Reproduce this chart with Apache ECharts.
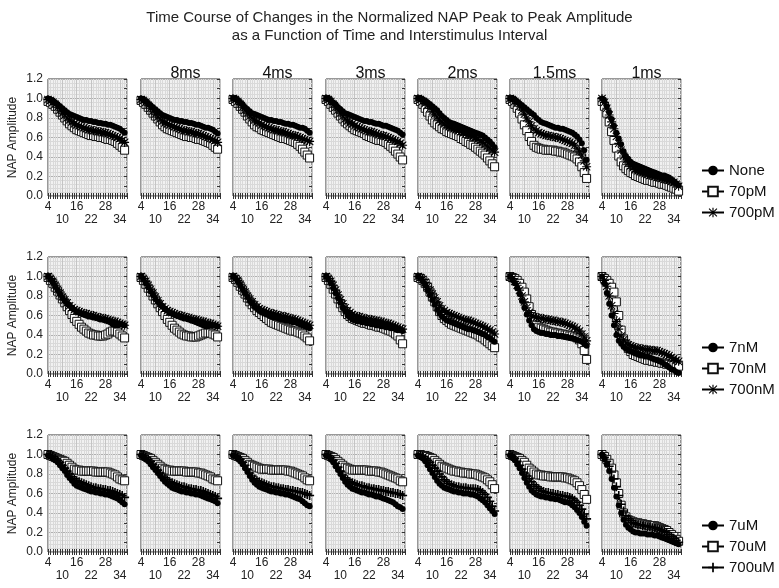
<!DOCTYPE html>
<html>
<head>
<meta charset="utf-8">
<script src="https://cdn.jsdelivr.net/npm/echarts@6/dist/echarts.min.js"></script>
<style>
  html, body { margin: 0; padding: 0; background: #fff; }
  #chart { width: 779px; height: 588px; }
</style>
</head>
<body>
<div id="chart"></div>
<script>
// time points (x axis)
const xs = [4, 5, 6, 7, 8, 9, 10, 11, 12, 13, 14, 15, 16, 17, 18, 19, 20, 21, 22, 23, 24, 25, 26, 27, 28, 29, 30, 31, 32, 33, 34, 35, 36]
const xLabelsTop = [4, 16, 28]
const xLabelsBottom = [10, 22, 34]
const colTitles = ['', '8ms', '4ms', '3ms', '2ms', '1.5ms', '1ms']
const rowNames = [
  ['None', '70pM', '700pM'],
  ['7nM', '70nM', '700nM'],
  ['7uM', '70uM', '700uM']
]

// NAP amplitude x100, one array per interstimulus column
const none = [
  [100, 99, 98, 96, 94, 92, 90, 88, 86, 84, 83, 82, 81, 80, 79, 78, 78, 77, 77, 76, 76, 75, 75, 74, 74, 73, 73, 72, 71, 70, 69, 67, 65],
  [100, 99, 97, 95, 93, 91, 89, 87, 85, 83, 82, 81, 80, 79, 78, 78, 77, 77, 76, 76, 75, 75, 74, 73, 73, 72, 71, 70, 70, 69, 68, 66, 64],
  [100, 100, 98, 96, 94, 91, 89, 87, 85, 84, 83, 82, 81, 80, 79, 78, 78, 77, 77, 76, 76, 75, 74, 74, 73, 73, 72, 71, 70, 70, 69, 67, 65],
  [100, 100, 98, 96, 94, 91, 89, 87, 85, 84, 83, 82, 81, 80, 79, 78, 77, 77, 76, 76, 75, 74, 74, 73, 72, 72, 71, 70, 69, 68, 67, 65, 63],
  [100, 100, 99, 98, 96, 94, 92, 90, 88, 85, 82, 80, 78, 76, 75, 74, 73, 72, 71, 70, 69, 68, 67, 66, 65, 64, 63, 62, 60, 58, 56, 53, 50],
  [100, 100, 99, 97, 95, 93, 91, 89, 87, 85, 83, 80, 78, 76, 75, 74, 73, 72, 71, 70, 70, 69, 69, 68, 67, 66, 65, 63, 61, 58, 54, 47, 37],
  [100, 97, 92, 86, 79, 72, 65, 59, 53, 46, 41, 38, 35, 33, 32, 31, 30, 29, 28, 27, 26, 25, 24, 23, 22, 21, 21, 20, 19, 17, 15, 13, 11]
]
const pM70 = [
  [97, 96, 94, 92, 89, 86, 83, 80, 77, 74, 72, 70, 68, 67, 66, 65, 64, 63, 62, 62, 61, 61, 60, 60, 59, 58, 58, 57, 56, 54, 52, 50, 47],
  [98, 96, 94, 91, 88, 85, 82, 79, 76, 73, 71, 69, 68, 67, 66, 65, 64, 63, 62, 61, 61, 60, 60, 59, 58, 58, 57, 56, 55, 54, 52, 50, 48],
  [99, 97, 95, 92, 89, 86, 82, 79, 76, 73, 71, 70, 68, 67, 66, 65, 64, 63, 62, 61, 60, 59, 59, 58, 57, 56, 55, 53, 51, 48, 45, 42, 39],
  [99, 97, 94, 91, 88, 85, 82, 79, 76, 74, 72, 70, 68, 67, 66, 65, 64, 62, 61, 60, 59, 58, 57, 57, 56, 55, 53, 51, 49, 46, 43, 40, 37],
  [99, 97, 94, 90, 86, 82, 78, 75, 73, 71, 69, 68, 66, 65, 64, 63, 62, 61, 59, 58, 56, 55, 53, 52, 50, 48, 46, 44, 42, 39, 36, 33, 30],
  [99, 97, 94, 90, 85, 79, 73, 67, 61, 56, 52, 50, 49, 48, 48, 47, 47, 47, 47, 46, 46, 45, 45, 44, 43, 42, 41, 40, 38, 35, 30, 24, 18],
  [97, 92, 85, 76, 66, 57, 49, 41, 35, 31, 28, 26, 24, 23, 21, 20, 19, 18, 17, 16, 16, 15, 14, 14, 13, 12, 12, 11, 10, 9, 8, 7, 5]
]
const pM700 = [
  [99, 98, 96, 94, 91, 88, 85, 83, 80, 78, 76, 74, 73, 72, 71, 70, 69, 68, 68, 67, 67, 66, 66, 65, 65, 64, 63, 62, 61, 60, 59, 57, 55],
  [99, 98, 96, 93, 90, 87, 84, 81, 79, 77, 75, 74, 73, 72, 71, 70, 69, 68, 67, 67, 66, 66, 65, 64, 64, 63, 62, 61, 60, 59, 58, 57, 55],
  [100, 99, 97, 94, 91, 88, 85, 82, 80, 78, 76, 75, 73, 72, 71, 70, 69, 68, 68, 67, 66, 66, 65, 64, 63, 62, 62, 61, 60, 59, 58, 57, 56],
  [100, 99, 97, 94, 91, 88, 85, 82, 79, 77, 75, 74, 72, 71, 70, 69, 68, 67, 66, 66, 65, 64, 63, 62, 62, 61, 60, 59, 58, 57, 56, 54, 52],
  [100, 99, 97, 95, 93, 90, 87, 84, 81, 78, 76, 74, 72, 71, 70, 69, 68, 67, 66, 65, 64, 63, 62, 61, 60, 58, 57, 55, 53, 51, 49, 47, 45],
  [100, 99, 97, 95, 92, 88, 84, 80, 76, 72, 69, 67, 65, 64, 63, 62, 62, 61, 61, 60, 60, 59, 58, 57, 56, 55, 54, 52, 49, 46, 42, 36, 30],
  [100, 96, 90, 83, 76, 69, 61, 54, 47, 41, 37, 34, 31, 29, 27, 26, 25, 24, 23, 22, 21, 21, 20, 19, 19, 18, 17, 17, 16, 15, 14, 12, 10]
]
const nM7 = [
  [100, 97, 94, 90, 86, 82, 78, 75, 72, 70, 68, 66, 64, 63, 62, 61, 60, 59, 59, 58, 58, 57, 56, 56, 55, 54, 53, 51, 50, 50, 51, 51, 50],
  [100, 97, 93, 89, 85, 81, 77, 74, 71, 69, 67, 65, 63, 62, 61, 60, 59, 58, 57, 57, 56, 55, 54, 53, 52, 51, 50, 49, 49, 50, 50, 50, 49],
  [100, 98, 95, 91, 87, 83, 79, 75, 72, 69, 67, 65, 63, 62, 61, 60, 59, 58, 58, 57, 56, 56, 55, 55, 54, 53, 53, 52, 51, 50, 49, 48, 47],
  [100, 97, 93, 88, 83, 78, 73, 68, 64, 60, 58, 56, 55, 54, 54, 53, 53, 52, 52, 51, 51, 50, 50, 49, 49, 48, 48, 47, 47, 46, 45, 45, 44],
  [100, 98, 95, 91, 86, 81, 76, 71, 66, 62, 59, 57, 55, 54, 53, 52, 51, 50, 49, 48, 47, 46, 46, 45, 44, 43, 42, 41, 40, 38, 37, 35, 33],
  [100, 97, 93, 88, 82, 75, 68, 61, 55, 50, 46, 44, 43, 42, 42, 41, 41, 40, 40, 40, 39, 39, 39, 38, 38, 37, 37, 36, 35, 34, 33, 31, 29],
  [100, 93, 83, 72, 60, 50, 40, 34, 31, 28, 26, 24, 23, 22, 21, 20, 19, 19, 18, 18, 17, 16, 15, 14, 13, 12, 10, 9, 7, 5, 4, 2, 1]
]
const nM70 = [
  [99, 96, 93, 89, 85, 81, 77, 73, 69, 65, 61, 57, 54, 51, 48, 46, 44, 42, 41, 40, 40, 39, 39, 39, 40, 41, 43, 44, 44, 43, 41, 39, 37],
  [99, 96, 92, 88, 84, 80, 76, 72, 68, 64, 60, 56, 53, 50, 47, 45, 43, 41, 40, 39, 39, 38, 38, 38, 39, 40, 41, 42, 42, 42, 41, 40, 38],
  [99, 97, 94, 90, 86, 82, 78, 74, 71, 68, 65, 63, 61, 59, 57, 55, 53, 52, 51, 50, 49, 48, 47, 46, 45, 44, 44, 43, 42, 41, 39, 37, 34],
  [99, 96, 92, 87, 82, 77, 72, 68, 64, 61, 59, 57, 56, 55, 54, 53, 52, 52, 51, 50, 50, 49, 48, 48, 47, 46, 45, 44, 43, 41, 39, 35, 31],
  [99, 98, 96, 93, 89, 84, 79, 74, 69, 64, 60, 57, 55, 53, 51, 50, 49, 48, 47, 46, 45, 44, 43, 42, 41, 40, 38, 37, 35, 33, 31, 29, 27],
  [100, 99, 98, 96, 93, 89, 84, 77, 69, 61, 54, 50, 48, 47, 46, 45, 44, 43, 43, 42, 42, 41, 41, 40, 40, 39, 39, 38, 37, 35, 31, 24, 15],
  [100, 98, 96, 93, 89, 84, 74, 60, 45, 36, 30, 26, 23, 20, 19, 18, 17, 16, 15, 14, 14, 13, 13, 12, 12, 11, 11, 10, 10, 9, 9, 8, 8]
]
const nM700 = [
  [100, 98, 95, 91, 87, 83, 79, 76, 73, 70, 68, 66, 65, 64, 63, 62, 62, 61, 60, 60, 59, 58, 58, 57, 57, 56, 55, 54, 54, 53, 52, 51, 50],
  [100, 98, 95, 91, 87, 83, 79, 75, 72, 69, 67, 65, 64, 63, 62, 61, 60, 60, 59, 58, 58, 57, 56, 56, 55, 54, 54, 53, 52, 52, 51, 50, 49],
  [100, 98, 96, 92, 88, 84, 80, 77, 74, 71, 69, 67, 66, 65, 64, 63, 62, 62, 61, 60, 60, 59, 59, 58, 57, 57, 56, 55, 54, 53, 52, 51, 50],
  [100, 98, 95, 91, 86, 81, 76, 72, 68, 65, 63, 61, 60, 59, 59, 58, 57, 57, 56, 56, 55, 55, 54, 54, 53, 52, 52, 51, 50, 49, 48, 47, 46],
  [100, 99, 97, 94, 90, 86, 82, 78, 74, 70, 67, 65, 63, 62, 61, 60, 59, 58, 57, 56, 55, 55, 54, 53, 52, 51, 50, 49, 48, 46, 45, 43, 41],
  [100, 98, 95, 91, 86, 80, 74, 68, 63, 60, 59, 58, 58, 57, 57, 56, 56, 55, 55, 54, 54, 53, 53, 52, 51, 50, 49, 48, 46, 44, 41, 38, 34],
  [100, 96, 90, 80, 70, 62, 54, 46, 39, 35, 32, 30, 29, 28, 27, 27, 26, 26, 25, 25, 25, 24, 24, 24, 23, 22, 21, 20, 19, 17, 16, 14, 13]
]
const uM7 = [
  [99, 98, 96, 94, 92, 89, 86, 83, 79, 76, 73, 70, 68, 67, 66, 65, 64, 63, 62, 62, 61, 61, 60, 60, 59, 59, 58, 57, 56, 55, 53, 51, 49],
  [99, 97, 95, 93, 90, 87, 84, 81, 78, 75, 72, 70, 68, 66, 65, 64, 63, 62, 62, 61, 61, 60, 60, 59, 59, 58, 57, 56, 55, 54, 53, 52, 50],
  [99, 98, 96, 93, 90, 86, 82, 78, 74, 71, 69, 67, 66, 65, 64, 63, 62, 62, 61, 61, 60, 60, 59, 59, 58, 57, 56, 55, 54, 52, 50, 48, 47],
  [99, 98, 95, 92, 88, 84, 80, 76, 72, 69, 67, 65, 64, 63, 62, 61, 61, 60, 59, 59, 58, 57, 57, 56, 55, 54, 53, 52, 51, 49, 47, 46, 44],
  [99, 98, 96, 93, 89, 85, 81, 77, 73, 70, 68, 66, 65, 64, 63, 62, 62, 61, 61, 60, 60, 60, 59, 59, 58, 57, 55, 53, 51, 48, 45, 42, 39],
  [99, 97, 94, 90, 86, 81, 76, 71, 67, 63, 61, 59, 58, 57, 57, 56, 56, 55, 55, 54, 54, 53, 52, 51, 51, 50, 48, 46, 43, 40, 36, 31, 27],
  [100, 96, 90, 83, 75, 66, 57, 48, 40, 33, 28, 25, 23, 21, 20, 20, 19, 19, 19, 18, 18, 18, 17, 17, 16, 15, 14, 13, 12, 11, 10, 9, 8]
]
const uM70 = [
  [100, 99, 98, 97, 96, 95, 94, 93, 91, 89, 87, 85, 84, 84, 83, 83, 83, 83, 83, 83, 82, 82, 82, 82, 82, 82, 81, 80, 79, 77, 75, 74, 73],
  [100, 99, 98, 97, 96, 94, 92, 90, 88, 86, 85, 84, 84, 83, 83, 83, 83, 83, 83, 82, 82, 82, 82, 82, 81, 81, 80, 79, 78, 77, 75, 74, 73],
  [100, 99, 98, 97, 96, 94, 92, 90, 89, 88, 87, 86, 85, 85, 85, 85, 84, 84, 84, 84, 84, 84, 84, 83, 83, 82, 81, 80, 79, 78, 76, 74, 73],
  [100, 99, 98, 97, 95, 93, 91, 89, 87, 86, 85, 84, 84, 84, 84, 84, 84, 84, 83, 83, 83, 83, 82, 82, 81, 80, 79, 78, 77, 76, 75, 73, 72],
  [100, 100, 99, 99, 98, 97, 96, 94, 92, 90, 88, 87, 86, 85, 84, 83, 83, 82, 82, 81, 81, 81, 80, 80, 80, 79, 78, 77, 76, 74, 72, 69, 65],
  [100, 99, 98, 97, 96, 94, 92, 89, 86, 84, 82, 80, 79, 79, 78, 78, 78, 77, 77, 77, 77, 77, 77, 76, 76, 75, 74, 73, 71, 68, 64, 59, 54],
  [100, 98, 95, 91, 86, 79, 71, 60, 48, 40, 36, 33, 32, 31, 30, 30, 29, 29, 28, 28, 27, 27, 27, 26, 25, 24, 23, 22, 20, 18, 16, 13, 11]
]
const uM700 = [
  [100, 99, 98, 96, 94, 92, 89, 86, 83, 80, 77, 75, 73, 72, 71, 70, 69, 68, 67, 66, 66, 65, 65, 64, 64, 63, 63, 62, 61, 60, 59, 58, 56],
  [100, 99, 97, 95, 93, 90, 87, 84, 81, 78, 76, 74, 72, 71, 70, 69, 68, 67, 67, 66, 65, 65, 64, 64, 63, 63, 62, 61, 60, 59, 58, 57, 55],
  [100, 99, 97, 95, 92, 89, 85, 81, 78, 75, 73, 72, 71, 70, 69, 68, 67, 67, 66, 66, 65, 65, 64, 64, 63, 63, 62, 62, 61, 61, 60, 59, 58],
  [100, 99, 97, 94, 91, 87, 83, 79, 76, 74, 72, 71, 70, 69, 68, 68, 67, 66, 66, 65, 65, 64, 64, 63, 63, 62, 62, 61, 61, 60, 60, 59, 58],
  [100, 99, 98, 96, 94, 92, 89, 86, 83, 80, 77, 74, 72, 70, 69, 68, 67, 67, 66, 66, 66, 65, 65, 65, 65, 64, 63, 61, 59, 56, 52, 47, 42],
  [100, 98, 96, 93, 89, 85, 81, 78, 75, 72, 69, 67, 65, 63, 62, 61, 61, 60, 60, 59, 59, 58, 58, 57, 57, 56, 55, 53, 51, 48, 44, 39, 34],
  [100, 97, 93, 88, 82, 75, 67, 58, 49, 42, 37, 34, 32, 30, 29, 28, 28, 27, 27, 26, 26, 25, 25, 24, 23, 22, 21, 20, 18, 16, 14, 12, 10]
]

const rowData = [
  [none, pM70, pM700],
  [nM7, nM70, nM700],
  [uM7, uM70, uM700]
]

const FONT = '"Liberation Sans", Arial, sans-serif'
const ASTERISK = 'path://M0,4.4h10v1.2h-10z M4.4,0h1.2v10h-1.2z M1.3,0.5l8.2,8.2-0.8,0.8-8.2-8.2z M8.7,0.5l0.8,0.8-8.2,8.2-0.8-0.8z'
const PLUS = 'path://M0,4.1h10v1.8h-10z M4.1,0h1.8v10h-1.8z'

// layout of the 3x7 panels
const colLeft = [48, 141, 233, 326, 418, 510, 602]
const rowTop = [79, 257, 435]
const panelW = 79
const panelH = 117
const legendTop = [158, 335, 513]

// marker style per series slot (circle / square / asterisk-or-plus)
function markerStyle(slot, row) {
  if (slot === 0) {
    return { symbol: 'circle', symbolSize: 6, itemStyle: { color: '#000' } }
  }
  if (slot === 1) {
    return { symbol: 'rect', symbolSize: 8, itemStyle: { color: '#fff', borderColor: '#111', borderWidth: 1 } }
  }
  return { symbol: row === 2 ? PLUS : ASTERISK, symbolSize: 9, itemStyle: { color: '#000' } }
}

function xLabel(v) {
  if (xLabelsTop.indexOf(v) >= 0) return String(v)
  if (xLabelsBottom.indexOf(v) >= 0) return '\n' + v
  return ''
}

const grid = []
const xAxis = []
const yAxis = []
const series = []
const title = [{
  text: 'Time Course of Changes in the Normalized NAP Peak to Peak Amplitude\nas a Function of Time and Interstimulus Interval',
  left: 'center',
  top: 4,
  textStyle: { fontFamily: FONT, fontSize: 15, fontWeight: 'normal', color: '#222', lineHeight: 18 }
}]
const legend = []

colTitles.forEach(function(t, c) {
  if (!t) return
  title.push({
    text: t,
    left: colLeft[c] + panelW / 2,
    top: 61,
    textAlign: 'center',
    textStyle: { fontFamily: FONT, fontSize: 16, fontWeight: 'normal', color: '#111' }
  })
})

for (let r = 0; r < 3; r++) {
  for (let c = 0; c < 7; c++) {
    const idx = r * 7 + c
    grid.push({
      left: colLeft[c],
      top: rowTop[r],
      width: panelW,
      height: panelH,
      show: true,
      backgroundColor: '#f1f1f1',
      borderColor: '#333',
      borderWidth: 1
    })
    // bottom x axis with labels
    xAxis.push({
      gridIndex: idx,
      type: 'value',
      min: 4,
      max: 37,
      interval: 6,
      axisLine: { show: false },
      axisTick: { show: true, inside: true, length: 3, lineStyle: { color: '#333' } },
      minorTick: { show: true, splitNumber: 6, length: 3, lineStyle: { color: '#333' } },
      splitLine: { show: true, lineStyle: { color: '#c4c4c4' } },
      minorSplitLine: { show: true, lineStyle: { color: '#d9d9d9' } },
      axisLabel: {
        formatter: xLabel,
        fontFamily: FONT,
        fontSize: 12,
        color: '#222',
        margin: 4,
        lineHeight: 13
      }
    })
    // top x axis, ticks only
    xAxis.push({
      gridIndex: idx,
      type: 'value',
      position: 'top',
      min: 4,
      max: 37,
      interval: 6,
      axisLine: { show: false },
      axisTick: { show: true, inside: true, length: 3, lineStyle: { color: '#333' } },
      minorTick: { show: true, splitNumber: 6, length: 3, lineStyle: { color: '#333' } },
      splitLine: { show: false },
      axisLabel: { show: false }
    })
    yAxis.push({
      gridIndex: idx,
      type: 'value',
      min: 0,
      max: 1.2,
      interval: 0.2,
      name: c === 0 ? 'NAP Amplitude' : '',
      nameLocation: 'middle',
      nameGap: 29,
      nameTextStyle: { fontFamily: FONT, fontSize: 12, color: '#222' },
      axisLine: { show: false },
      axisTick: { show: false },
      minorTick: { show: false, splitNumber: 5 },
      splitLine: { show: true, lineStyle: { color: '#b0b0b0' } },
      minorSplitLine: { show: true, lineStyle: { color: '#d9d9d9' } },
      axisLabel: {
        show: c === 0,
        formatter: function(v) { return v.toFixed(1) },
        fontFamily: FONT,
        fontSize: 12,
        color: '#222',
        margin: 5
      }
    })
    // right side ticks
    yAxis.push({
      gridIndex: idx,
      type: 'value',
      position: 'right',
      min: 0,
      max: 1.2,
      interval: 0.2,
      axisLine: { show: false },
      axisTick: { show: true, inside: true, length: 3, lineStyle: { color: '#333' } },
      minorTick: { show: true, splitNumber: 2, length: 3, lineStyle: { color: '#333' } },
      splitLine: { show: false },
      axisLabel: { show: false }
    })

    // squares drawn first so the filled markers stay on top
    const order = [1, 0, 2]
    order.forEach(function(s) {
      const vals = rowData[r][s][c]
      const st = markerStyle(s, r)
      series.push({
        type: 'line',
        name: rowNames[r][s],
        xAxisIndex: idx * 2,
        yAxisIndex: idx * 2,
        data: xs.map(function(x, i) { return [x, vals[i] / 100] }),
        symbol: st.symbol,
        symbolSize: st.symbolSize,
        showSymbol: true,
        showAllSymbol: true,
        itemStyle: st.itemStyle,
        lineStyle: { color: '#000', width: 1 },
        emphasis: { disabled: true },
        silent: true,
        animation: false
      })
    })
  }
  legend.push({
    orient: 'vertical',
    left: 696,
    top: legendTop[r],
    itemWidth: 22,
    itemHeight: 12,
    itemGap: 6,
    selectedMode: false,
    data: rowNames[r],
    textStyle: { fontFamily: FONT, fontSize: 15, color: '#111' }
  })
}

const chart = echarts.init(document.getElementById('chart'))
chart.setOption({
  backgroundColor: '#fff',
  animation: false,
  title: title,
  legend: legend,
  grid: grid,
  xAxis: xAxis,
  yAxis: yAxis,
  series: series
})
</script>
</body>
</html>
